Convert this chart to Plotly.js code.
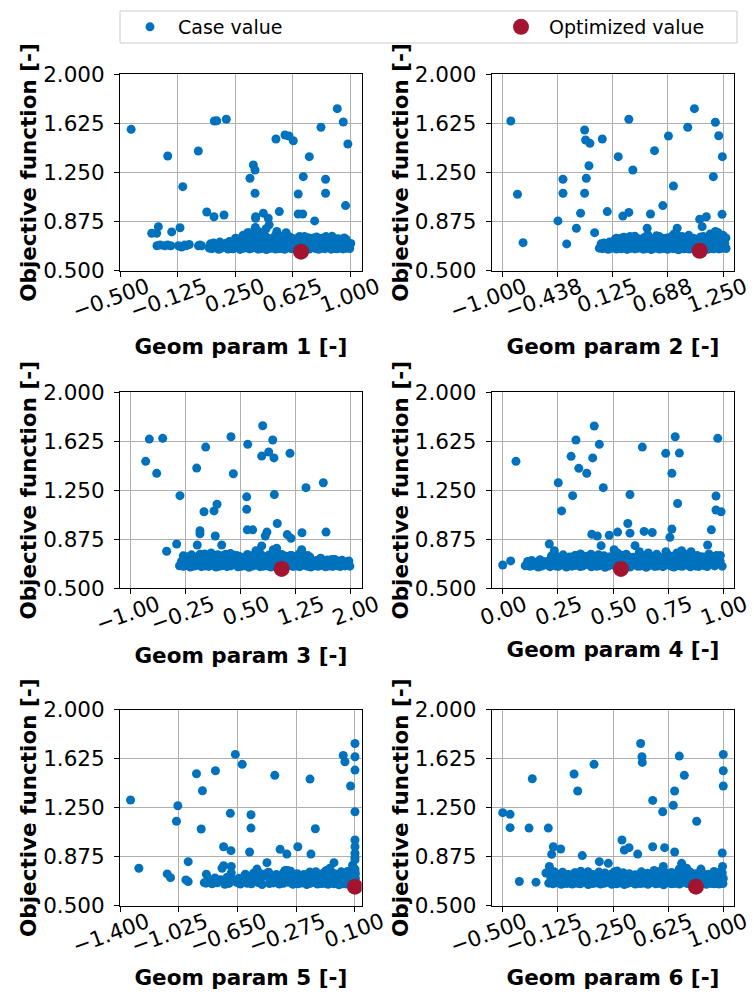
<!DOCTYPE html>
<html><head><meta charset="utf-8">
<script src="https://cdn.plot.ly/plotly-3.0.1.min.js"></script>
<style>html,body{margin:0;padding:0;background:#fff}#chart{width:754px;height:994px}</style>
</head><body><div id="chart"></div>
<script>
// Shared objective values of the dense band of cases
const bandYA = [0.672,0.668,0.675,0.663,0.670,0.678,0.665,0.671,0.667,0.676,0.662,0.669,0.674,0.666,0.671,0.679,0.664,0.668,0.673,0.661,0.670,0.677,0.665,0.669,0.672,0.663,0.676,0.668,0.671,0.660,0.674,0.667,0.670,0.665,0.678,0.669,0.663,0.672,0.668,0.675,0.664,0.670,0.667,0.673,0.666,0.671,0.669];
const bandYB = [0.705,0.712,0.698,0.718,0.703,0.709,0.722,0.700,0.714,0.707,0.725,0.711,0.703,0.731,0.716,0.708,0.728,0.713,0.704,0.735,0.719,0.709,0.727,0.740,0.712,0.706,0.738,0.715,0.702,0.721,0.709,0.733,0.711,0.704,0.718,0.727,0.707,0.713,0.724,0.703,0.716,0.709,0.721,0.706,0.714,0.702,0.708];
const bandYC = [0.748,0.742,0.756,0.739,0.751,0.763,0.744,0.738,0.757,0.749,0.741,0.766,0.752,0.745,0.737,0.759,0.748,0.743,0.761,0.736,0.754,0.747,0.740,0.758,0.745,0.751,0.739,0.762,0.744,0.750];

// Geom param 1
const p1X = [-0.428,-0.19,-0.092,0.009,0.113,0.129,0.191,0.064,0.111,0.176,-0.251,-0.294,-0.262,-0.164,-0.11,0.367,0.378,0.345,0.378,0.382,0.382,0.432,0.464,0.536,0.514,0.573,0.599,0.627,0.659,0.692,0.731,0.659,0.688,0.766,0.807,0.837,0.837,0.913,0.952,0.982,0.967,
 -0.26,-0.24,-0.21,-0.19,-0.17,-0.12,-0.10,-0.08,-0.07,-0.05,0.01,0.02,0.03,
 0.38,0.34,0.45,0.47,0.52,0.58,0.30,0.33,0.36,0.40,0.44,0.55,0.60,0.70,0.76,0.84,0.88,0.93,0.97];
const p1Y = [1.58,1.376,1.142,1.414,1.644,1.645,1.657,0.948,0.912,0.925,0.836,0.786,0.786,0.796,0.828,1.307,1.269,1.206,1.091,0.912,0.90,0.939,0.900,0.951,1.506,1.537,1.529,1.493,1.086,1.218,1.371,0.933,0.933,0.880,1.596,1.198,1.091,1.738,1.636,1.468,0.997,
 0.69,0.695,0.69,0.695,0.69,0.69,0.68,0.695,0.69,0.70,0.69,0.695,0.69,
 0.83,0.79,0.82,0.85,0.80,0.79,0.77,0.79,0.78,0.80,0.77,0.76,0.75,0.76,0.75,0.76,0.75,0.74,0.74];
const p1BandXA = [0.081,0.097,0.118,0.142,0.155,0.178,0.203,0.219,0.236,0.262,0.281,0.297,0.318,0.341,0.356,0.372,0.398,0.415,0.433,0.452,0.477,0.494,0.512,0.538,0.553,0.571,0.596,0.612,0.634,0.651,0.673,0.695,0.712,0.731,0.756,0.773,0.792,0.815,0.833,0.851,0.874,0.893,0.912,0.934,0.951,0.972,0.994];
const p1BandXB = [0.088,0.109,0.131,0.149,0.169,0.191,0.211,0.228,0.248,0.271,0.289,0.309,0.329,0.348,0.364,0.386,0.406,0.424,0.443,0.464,0.486,0.503,0.524,0.545,0.562,0.583,0.604,0.623,0.642,0.662,0.684,0.703,0.722,0.743,0.764,0.782,0.803,0.824,0.842,0.862,0.883,0.903,0.922,0.943,0.962,0.983,1.001];
const p1BandXC = [0.251,0.274,0.302,0.321,0.347,0.369,0.391,0.418,0.437,0.459,0.482,0.508,0.527,0.549,0.577,0.601,0.618,0.644,0.668,0.689,0.716,0.738,0.761,0.779,0.806,0.828,0.855,0.879,0.917,0.958];

// Geom param 2
const p2X = [-0.915,-0.847,-0.79,-0.434,-0.383,-0.383,-0.345,-0.246,-0.203,-0.162,-0.152,-0.108,-0.118,-0.145,-0.162,-0.06,0.018,0.069,0.181,0.228,0.289,0.289,0.330,0.510,0.476,0.483,0.551,0.636,0.693,0.744,0.782,0.890,0.958,1.012,1.08,1.037,1.172,1.206,1.243,1.151,1.24,1.172,
 0.15,0.22,0.30,0.38,0.44,0.60,0.68,0.75,0.80,0.90,1.05,1.12,1.20,1.25,1.28,1.26];
const p2Y = [1.644,1.084,0.714,0.88,1.198,1.091,0.704,0.824,0.939,1.575,1.498,1.473,1.302,1.206,1.091,0.79,1.506,0.951,1.371,0.917,0.945,1.657,1.269,0.933,0.824,0.773,1.417,0.997,1.529,1.147,0.824,1.596,1.738,0.893,0.912,0.836,1.634,1.531,1.371,1.218,0.930,0.80,
 0.74,0.75,0.76,0.74,0.75,0.76,0.75,0.78,0.76,0.77,0.76,0.78,0.79,0.77,0.75,0.72];
const p2BandXA = [-0.012,0.021,0.048,0.079,0.104,0.133,0.162,0.188,0.214,0.243,0.271,0.298,0.327,0.352,0.381,0.409,0.436,0.463,0.492,0.518,0.547,0.574,0.601,0.629,0.657,0.684,0.712,0.741,0.766,0.795,0.823,0.851,0.877,0.906,0.934,0.961,0.989,1.015,1.043,1.071,1.098,1.126,1.153,1.182,1.209,1.237,1.281];
const p2BandXB = [0.006,0.036,0.062,0.091,0.119,0.147,0.175,0.201,0.229,0.257,0.284,0.312,0.339,0.367,0.395,0.422,0.449,0.477,0.505,0.533,0.561,0.588,0.615,0.643,0.671,0.698,0.726,0.754,0.781,0.809,0.837,0.864,0.892,0.919,0.947,0.975,1.002,1.029,1.057,1.085,1.112,1.139,1.167,1.195,1.223,1.251,1.268];
const p2BandXC = [0.162,0.197,0.238,0.276,0.311,0.349,0.384,0.421,0.458,0.497,0.534,0.571,0.609,0.646,0.683,0.722,0.758,0.797,0.833,0.872,0.909,0.947,0.984,1.022,1.059,1.097,1.134,1.172,1.209,1.248];

// Geom param 3
const p3X = [-0.795,-0.745,-0.562,-0.644,-0.326,-0.508,-0.371,-0.097,0.026,0.003,0.14,0.181,-0.052,-0.052,-0.089,0.157,0.245,0.372,0.404,0.587,0.587,0.601,0.595,0.669,0.714,0.792,0.806,0.792,0.888,0.96,0.943,0.965,0.841,0.864,0.951,0.997,1.005,1.179,1.142,1.193,1.343,1.339,1.398,1.635,1.672,
 -0.18,-0.05,0.05,0.1,0.2,0.3,0.45,0.6,0.78,1.0,1.2,1.35,1.45,1.6,1.75];
const p3Y = [1.472,1.642,1.648,1.380,1.209,0.783,0.839,1.420,1.581,1.086,1.092,1.143,0.941,0.917,0.831,0.900,0.831,1.660,1.377,1.2,1.104,1.602,0.947,0.947,0.788,0.824,1.744,1.512,1.543,1.498,1.635,1.217,0.900,0.930,0.795,0.807,0.996,1.533,0.911,0.882,0.925,0.795,1.270,1.308,0.930,
 0.74,0.76,0.75,0.77,0.74,0.76,0.75,0.74,0.76,0.74,0.75,0.76,0.74,0.73,0.72];
const p3BandXA = [-0.332,-0.281,-0.236,-0.183,-0.131,-0.084,-0.032,0.018,0.066,0.117,0.168,0.216,0.264,0.317,0.366,0.413,0.467,0.515,0.563,0.618,0.666,0.714,0.768,0.815,0.862,0.917,0.965,1.014,1.066,1.115,1.162,1.217,1.265,1.313,1.367,1.414,1.463,1.516,1.564,1.613,1.666,1.715,1.762,1.817,1.866,1.934,1.998];
const p3BandXB = [-0.305,-0.258,-0.207,-0.156,-0.108,-0.057,-0.006,0.043,0.092,0.143,0.193,0.241,0.292,0.341,0.391,0.442,0.491,0.541,0.589,0.642,0.691,0.741,0.792,0.839,0.891,0.941,0.991,1.041,1.089,1.141,1.191,1.241,1.289,1.341,1.391,1.438,1.491,1.541,1.589,1.641,1.691,1.739,1.791,1.841,1.891,1.958,1.985];
const p3BandXC = [-0.281,-0.222,-0.168,-0.108,-0.047,0.012,0.071,0.128,0.189,0.247,0.306,0.364,0.423,0.482,0.541,0.598,0.657,0.716,0.775,0.833,0.891,0.951,1.009,1.067,1.126,1.186,1.243,1.302,1.361,1.423];

// Geom param 4
const p4X = [0.0,0.036,0.060,0.211,0.234,0.252,0.267,0.310,0.317,0.332,0.345,0.381,0.408,0.415,0.438,0.456,0.404,0.429,0.446,0.483,0.521,0.505,0.567,0.577,0.577,0.633,0.641,0.678,0.60,0.739,0.782,0.801,0.767,0.793,0.758,0.767,0.811,0.854,0.929,0.946,0.967,0.967,0.990,0.975,
 0.27,0.33,0.40,0.45,0.52,0.56,0.62,0.66,0.70,0.74,0.79,0.84,0.9,0.97,0.98];
const p4Y = [0.678,0.709,1.472,0.839,0.788,1.308,1.092,1.510,1.209,1.635,1.418,1.380,1.498,1.742,1.602,1.270,0.913,0.900,0.826,0.906,0.930,0.795,0.996,0.922,1.217,1.581,0.935,0.927,0.826,1.533,1.660,1.535,1.380,1.149,0.890,0.953,0.788,0.78,0.831,0.947,1.206,1.099,1.086,1.648,
 0.74,0.75,0.76,0.74,0.77,0.76,0.78,0.77,0.75,0.78,0.77,0.76,0.74,0.75,0.72];
const p4BandXA = [0.102,0.124,0.139,0.161,0.177,0.201,0.215,0.239,0.252,0.276,0.289,0.314,0.327,0.351,0.364,0.389,0.402,0.426,0.439,0.464,0.477,0.501,0.514,0.539,0.551,0.576,0.589,0.614,0.627,0.651,0.664,0.689,0.702,0.726,0.739,0.764,0.776,0.801,0.814,0.839,0.851,0.876,0.889,0.914,0.927,0.961,0.995];
const p4BandXB = [0.113,0.131,0.151,0.169,0.189,0.208,0.226,0.246,0.264,0.283,0.302,0.321,0.339,0.358,0.377,0.396,0.414,0.433,0.452,0.471,0.489,0.508,0.527,0.546,0.564,0.583,0.602,0.621,0.639,0.658,0.677,0.696,0.714,0.733,0.752,0.771,0.789,0.808,0.827,0.846,0.864,0.883,0.902,0.921,0.939,0.972,0.986];
const p4BandXC = [0.221,0.248,0.274,0.302,0.327,0.353,0.381,0.406,0.434,0.459,0.487,0.512,0.539,0.566,0.592,0.618,0.645,0.671,0.698,0.724,0.751,0.777,0.803,0.829,0.856,0.882,0.908,0.935,0.961,0.987];

// Geom param 5
const p5X = [-1.333,-1.28,-1.099,-1.078,-1.031,-1.04,-0.965,-0.98,-0.965,-0.912,-0.874,-0.882,-0.849,-0.862,-0.791,-0.664,-0.62,-0.696,-0.739,-0.692,-0.739,-0.749,-0.69,-0.69,-0.564,-0.564,-0.573,-0.526,-0.462,-0.412,-0.378,-0.335,-0.346,-0.265,-0.187,-0.153,-0.181,-0.034,-0.06,0.025,0.036,0.072,0.1,0.1,0.1,0.1,0.1,0.1,0.1,0.085,0.1,
 -0.6,-0.52,-0.46,-0.38,-0.33,-0.2,-0.15,-0.1,-0.08,-0.02,0.05,0.08,0.1,0.1,0.1];
const p5Y = [1.309,0.786,0.743,0.714,1.265,1.146,0.837,0.697,0.684,1.510,1.380,1.087,0.740,0.676,1.533,1.658,1.582,1.207,0.951,0.921,0.806,0.786,0.80,0.75,1.196,1.094,0.911,0.78,0.829,1.498,0.931,0.895,0.77,0.951,1.469,1.089,0.895,0.829,0.786,1.650,1.602,1.416,1.742,1.640,1.538,1.219,1.003,0.951,0.901,0.81,0.78,
 0.74,0.76,0.75,0.73,0.77,0.74,0.76,0.75,0.77,0.74,0.76,0.73,0.74,0.85,0.87];
const p5BandXA = [-0.851,-0.812,-0.779,-0.731,-0.704,-0.655,-0.632,-0.588,-0.561,-0.517,-0.493,-0.446,-0.421,-0.383,-0.357,-0.322,-0.296,-0.263,-0.241,-0.208,-0.187,-0.158,-0.139,-0.112,-0.094,-0.071,-0.053,-0.034,-0.018,-0.002,0.011,0.023,0.034,0.046,0.055,0.063,0.071,0.078,0.084,0.089,0.093,0.096,0.098,0.099,0.1,0.1,0.1];
const p5BandXB = [-0.836,-0.794,-0.758,-0.716,-0.683,-0.641,-0.607,-0.572,-0.538,-0.503,-0.469,-0.434,-0.402,-0.369,-0.338,-0.307,-0.278,-0.249,-0.222,-0.196,-0.171,-0.148,-0.124,-0.103,-0.082,-0.062,-0.043,-0.026,-0.009,0.004,0.017,0.029,0.04,0.049,0.058,0.067,0.074,0.081,0.086,0.091,0.094,0.097,0.099,0.1,0.1,0.1,0.1];
const p5BandXC = [-0.548,-0.497,-0.451,-0.402,-0.357,-0.311,-0.268,-0.227,-0.189,-0.152,-0.118,-0.087,-0.058,-0.031,-0.008,0.012,0.029,0.044,0.057,0.068,0.077,0.084,0.089,0.093,0.096,0.098,0.099,0.1,0.1,0.1];

// Geom param 6
const p6X = [-0.5,-0.45,-0.45,-0.387,-0.299,-0.321,-0.274,-0.19,-0.156,-0.167,-0.106,-0.183,-0.206,-0.061,-0.015,0.01,0.121,0.041,0.157,0.218,0.311,0.327,0.359,0.418,0.438,0.447,0.449,0.52,0.52,0.588,0.601,0.592,0.66,0.669,0.701,0.735,0.669,0.717,0.751,0.819,0.848,1.0,1.0,1.0,0.993,0.995,
 -0.18,-0.15,-0.1,0.0,0.08,0.15,0.26,0.33,0.44,0.53,0.6,0.7,0.78,0.9,0.98];
const p6Y = [1.212,1.199,1.097,0.685,1.472,1.094,0.68,1.094,0.951,0.893,0.934,0.80,0.75,0.67,1.508,1.378,1.582,0.883,0.837,0.824,1.003,0.926,0.944,0.895,1.742,1.640,1.597,1.306,0.951,1.219,0.944,0.80,1.268,1.378,1.645,1.498,0.911,0.824,0.786,1.146,0.78,1.658,1.533,1.416,0.903,0.80,
 0.74,0.76,0.73,0.75,0.76,0.74,0.76,0.74,0.75,0.77,0.76,0.78,0.75,0.74,0.76];
const p6BandXA = [-0.187,-0.158,-0.134,-0.102,-0.081,-0.049,-0.027,0.006,0.028,0.059,0.082,0.113,0.135,0.166,0.189,0.219,0.242,0.273,0.296,0.327,0.349,0.381,0.402,0.434,0.456,0.488,0.509,0.541,0.563,0.594,0.617,0.648,0.671,0.702,0.724,0.756,0.778,0.809,0.831,0.863,0.885,0.916,0.938,0.958,0.972,0.986,0.998];
const p6BandXB = [-0.172,-0.146,-0.118,-0.091,-0.064,-0.038,-0.011,0.017,0.043,0.071,0.097,0.124,0.151,0.178,0.204,0.231,0.258,0.284,0.311,0.338,0.365,0.392,0.418,0.445,0.472,0.498,0.525,0.552,0.579,0.606,0.632,0.659,0.686,0.713,0.739,0.766,0.793,0.82,0.847,0.874,0.9,0.927,0.948,0.965,0.979,0.991,1.0];
const p6BandXC = [-0.176,-0.134,-0.093,-0.052,-0.011,0.031,0.072,0.113,0.154,0.196,0.237,0.278,0.319,0.361,0.402,0.443,0.484,0.526,0.567,0.608,0.649,0.691,0.732,0.773,0.814,0.856,0.897,0.938,0.969,0.993];

// Optimized value per parameter
const optX = [0.677, 1.012, 1.065, 0.536, 0.1, 0.814];
const optY = [0.645, 0.652, 0.648, 0.648, 0.645, 0.645];

// Tick labels
const xTickVals = [
  [-0.5,-0.125,0.25,0.625,1.0],
  [-1.0,-0.4375,0.125,0.6875,1.25],
  [-1.0,-0.25,0.5,1.25,2.0],
  [0.0,0.25,0.5,0.75,1.0],
  [-1.4,-1.025,-0.65,-0.275,0.1],
  [-0.5,-0.125,0.25,0.625,1.0]
];
const xTickFmt = ['.3f','.3f','.2f','.2f','.3f','.3f'];
const yTickVals = [0.5,0.875,1.25,1.625,2.0];
const xTitles = ['Geom param 1 [-]','Geom param 2 [-]','Geom param 3 [-]','Geom param 4 [-]','Geom param 5 [-]','Geom param 6 [-]'];
const yTitle = 'Objective function [-]';
const legendNames = ['Case value','Optimized value'];

const pX = [p1X,p2X,p3X,p4X,p5X,p6X];
const pY = [p1Y,p2Y,p3Y,p4Y,p5Y,p6Y];
const bXA = [p1BandXA,p2BandXA,p3BandXA,p4BandXA,p5BandXA,p6BandXA];
const bXB = [p1BandXB,p2BandXB,p3BandXB,p4BandXB,p5BandXB,p6BandXB];
const bXC = [p1BandXC,p2BandXC,p3BandXC,p4BandXC,p5BandXC,p6BandXC];

// ---- layout / styling ----
const W = 754, H = 994;
const BLUE = '#0072BD', RED = '#A2142F';
const FONT = 'DejaVu Sans, Verdana, sans-serif';
const colPx = [[120, 361.7], [491.7, 734.3]];
const rowPx = [[74.3, 270.7], [392.3, 588.3], [709.7, 905.7]];
const xRanges = [[-0.5005,1.072],[-1.11,1.365],[-1.146,2.16],[-0.05,1.05],[-1.4005,0.143],[-0.575,1.075]];
const labelShift = [27, 22];
const xTitleStandoff = [16, 12, 12];

const data = [];
const layout = {
  width: W, height: H,
  margin: {l:0, r:0, t:0, b:0},
  paper_bgcolor: '#fff', plot_bgcolor: '#fff',
  font: {family: FONT, color: '#000'},
  showlegend: true,
  legend: {
    orientation: 'h', x: 122/W, y: 1 - 8/H, xanchor: 'left', yanchor: 'top',
    font: {size: 19, family: FONT, color: '#000'},
    bgcolor: 'rgba(0,0,0,0)', borderwidth: 0, itemsizing: 'trace', itemwidth: 46
  },
  shapes: [{
    type: 'rect', xref: 'paper', yref: 'paper',
    x0: 120/W, x1: 737/W, y0: 1 - 43/H, y1: 1 - 11/H,
    line: {color: '#cccccc', width: 1}, fillcolor: 'rgba(255,255,255,0.8)', layer: 'below'
  }]
};

for (let i = 0; i < 6; i++) {
  const n = i + 1;
  const sfx = n === 1 ? '' : String(n);
  const col = i % 2, row = Math.floor(i / 2);
  const xs = pX[i].concat(bXA[i], bXB[i], bXC[i]);
  const ys = pY[i].concat(bandYA.slice(0, bXA[i].length), bandYB.slice(0, bXB[i].length), bandYC.slice(0, bXC[i].length));
  data.push({
    type: 'scatter', mode: 'markers', x: xs, y: ys,
    xaxis: 'x' + sfx, yaxis: 'y' + sfx,
    name: legendNames[0], legendgroup: 'case', showlegend: i === 0,
    legendwidth: 310,
    marker: {color: BLUE, size: 9, line: {width: 0}},
    hoverinfo: 'skip'
  });
  data.push({
    type: 'scatter', mode: 'markers', x: [optX[i]], y: [optY[i]],
    xaxis: 'x' + sfx, yaxis: 'y' + sfx,
    name: legendNames[1], legendgroup: 'opt', showlegend: i === 0,
    marker: {color: RED, size: 16, line: {width: 0}},
    hoverinfo: 'skip'
  });
  const common = {
    showline: true, mirror: true, linecolor: '#000', linewidth: 1,
    showgrid: true, gridcolor: '#b0b0b0', gridwidth: 1, zeroline: false,
    ticks: 'outside', ticklen: 5, tickwidth: 1, tickcolor: '#000',
    tickfont: {size: 21.5, family: FONT, color: '#000'},
    ticklabeloverflow: 'allow',
    automargin: false, fixedrange: true
  };
  layout['xaxis' + sfx] = Object.assign({}, common, {
    domain: [colPx[col][0]/W, colPx[col][1]/W],
    anchor: 'y' + sfx,
    range: xRanges[i],
    tickmode: 'array', tickvals: xTickVals[i], tickformat: xTickFmt[i],
    tickangle: -20, ticklabelshift: labelShift[col], ticklabelstandoff: -10,
    title: {text: xTitles[i], font: {size: 21.5, family: FONT, weight: 'bold', color: '#000'}, standoff: xTitleStandoff[row]}
  });
  layout['yaxis' + sfx] = Object.assign({}, common, {
    domain: [1 - rowPx[row][1]/H, 1 - rowPx[row][0]/H],
    anchor: 'x' + sfx,
    range: [0.4995, 2.0005],
    tickmode: 'array', tickvals: yTickVals, tickformat: '.3f',
    ticklabelstandoff: 5,
    title: {text: yTitle, font: {size: 21.5, family: FONT, weight: 'bold', color: '#000'}, standoff: 0}
  });
}

Plotly.newPlot('chart', data, layout, {displayModeBar: false, staticPlot: true});
</script>
</body></html>
